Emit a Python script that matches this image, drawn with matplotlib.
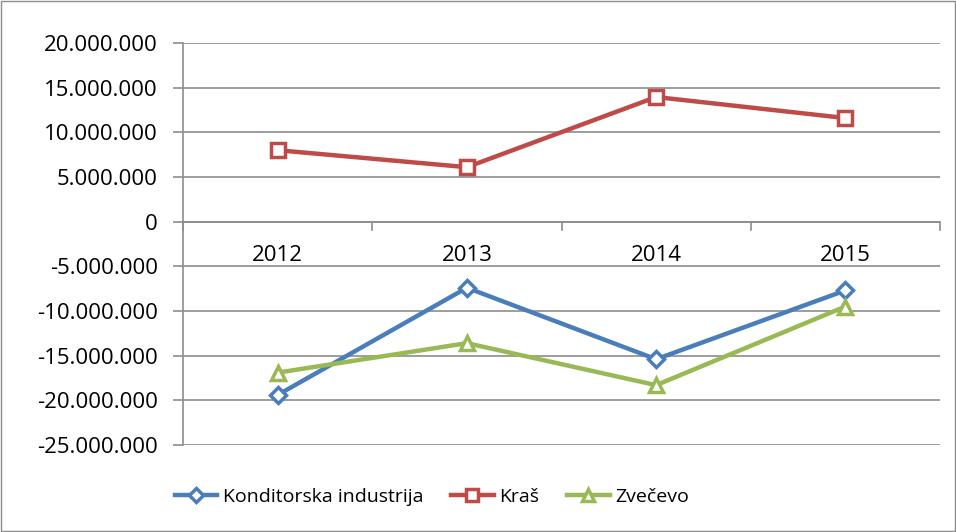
import matplotlib
matplotlib.use("Agg")
from matplotlib import pyplot as plt
from matplotlib.ticker import FuncFormatter, FixedLocator, NullFormatter
import numpy as np

years = ["2012", "2013", "2014", "2015"]
konditorska = [-19400000, -7400000, -15400000, -7700000]
kras = [8000000, 6100000, 13950000, 11600000]
zvecevo = [-16900000, -13600000, -18300000, -9500000]

plt.rcParams['font.family'] = ['Open Sans', 'DejaVu Sans']

fig = plt.figure(figsize=(9.56, 5.32), dpi=100)
ax = fig.add_axes([183/956, 1-445/532, (940-183)/956, (445-43)/532])

x = np.arange(len(years))
ax.plot(x, konditorska, color="#4a7ebb", lw=3.2, marker="D", ms=8.5, mfc="white",
        mec="#4a7ebb", mew=2.5, label="Konditorska industrija")
ax.plot(x, kras, color="#be4b48", lw=3.2, marker="s", ms=10, mfc="white",
        mec="#be4b48", mew=2.5, label="Kraš")
ax.plot(x, zvecevo, color="#98b954", lw=3.2, marker="^", ms=10, mfc="white",
        mec="#98b954", mew=2.5, label="Zvečevo")

ax.set_xlim(-0.5, 3.5)
ax.set_ylim(-25000000, 20000000)
ax.set_yticks(np.arange(-25000000, 20000001, 5000000))
ax.yaxis.set_major_formatter(FuncFormatter(lambda v, p: f"{int(v):,}".replace(",", ".")))
ax.grid(axis="y", color="#8c8c8c", lw=1.2)
ax.set_axisbelow(True)

for s in ["top", "right", "bottom"]:
    ax.spines[s].set_visible(False)
ax.spines["left"].set_color("#8c8c8c")
ax.spines["left"].set_linewidth(1.2)
ax.tick_params(axis="y", length=7, width=1.2, color="#8c8c8c", labelsize=16, pad=11)

# category axis drawn at zero
ax.axhline(0, color="#8c8c8c", lw=1.2, zorder=1)
ax.xaxis.set_major_locator(FixedLocator([-0.5, 0.5, 1.5, 2.5, 3.5]))
ax.xaxis.set_major_formatter(NullFormatter())
ax.tick_params(axis="x", length=0)
for xt in [-0.5, 0.5, 1.5, 2.5, 3.5]:
    ax.plot([xt, xt], [0, -900000], color="#8c8c8c", lw=1.2, clip_on=False, zorder=1)
for i, y in enumerate(years):
    ax.text(i, -3800000, y, ha="center", va="center", fontsize=16)

fig.legend(loc="center", bbox_to_anchor=(432/956, 1-497/532), ncol=3, frameon=False,
           fontsize=14, handlelength=2.2, columnspacing=1.4, handletextpad=0.3,
           markerscale=0.8)

fig.add_artist(plt.Rectangle((0.001, 0.001), 0.998, 0.997, transform=fig.transFigure,
                             fill=False, ec="#8c8c8c", lw=1))

fig.savefig("out.png", dpi=100)
